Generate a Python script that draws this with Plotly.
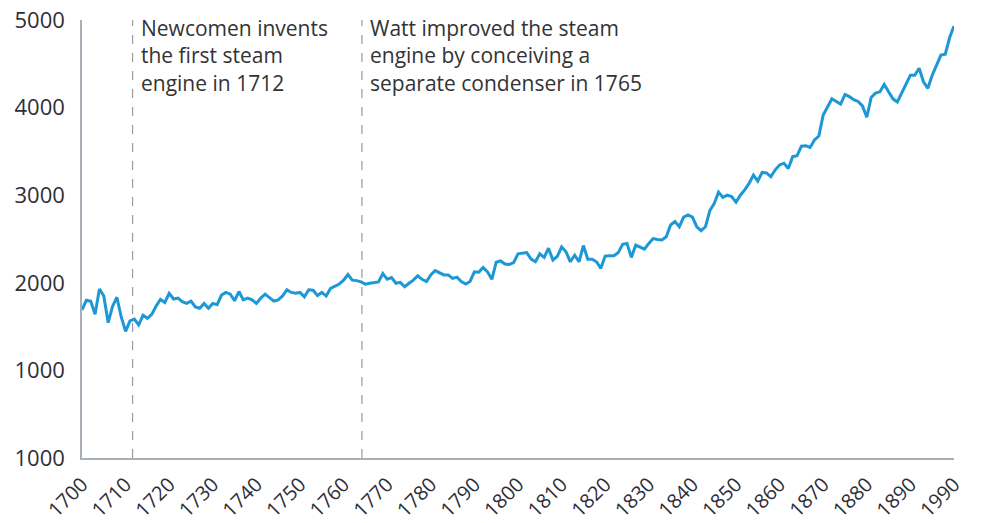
import plotly.graph_objects as go

years = list(range(1700, 1901))
values = [
    1690, 1800, 1790, 1640, 1930, 1850, 1545, 1730, 1835, 1610,  # 1700s
    1445, 1565, 1585, 1520, 1630, 1595, 1640, 1735, 1810, 1775,  # 1710s
    1880, 1815, 1825, 1785, 1765, 1790, 1725, 1710, 1765, 1710,  # 1720s
    1765, 1750, 1860, 1890, 1870, 1795, 1900, 1805, 1825, 1805,  # 1730s
    1765, 1825, 1870, 1835, 1790, 1805, 1850, 1920, 1890, 1880,  # 1740s
    1890, 1840, 1920, 1915, 1855, 1890, 1850, 1935, 1965, 1985,  # 1750s
    2030, 2095, 2030, 2025, 2010, 1985, 1995, 2000, 2010, 2105,  # 1760s
    2040, 2060, 1995, 2005, 1955, 1995, 2030, 2080, 2040, 2015,  # 1770s
    2090, 2140, 2115, 2090, 2090, 2050, 2065, 2015, 1985, 2015,  # 1780s
    2125, 2120, 2175, 2125, 2040, 2235, 2250, 2215, 2210, 2230,  # 1790s
    2330, 2335, 2345, 2270, 2240, 2330, 2290, 2395, 2260, 2300,  # 1800s
    2410, 2355, 2240, 2315, 2240, 2425, 2270, 2270, 2240, 2165,  # 1810s
    2305, 2310, 2310, 2345, 2440, 2450, 2290, 2430, 2405, 2385,  # 1820s
    2450, 2505, 2495, 2490, 2525, 2660, 2700, 2640, 2750, 2775,  # 1830s
    2750, 2640, 2595, 2640, 2825, 2905, 3035, 2975, 3000, 2985,  # 1840s
    2920, 3000, 3060, 3135, 3230, 3160, 3260, 3255, 3210, 3290,  # 1850s
    3345, 3365, 3305, 3440, 3450, 3560, 3565, 3545, 3630, 3675,  # 1860s
    3915, 4010, 4100, 4070, 4040, 4150, 4125, 4090, 4070, 4020,  # 1870s
    3890, 4115, 4165, 4180, 4265, 4180, 4100, 4065, 4170, 4260,  # 1880s
    4370, 4370, 4450, 4295, 4220, 4370, 4485, 4600, 4610, 4800,  # 1890s
    4930,                                                        # 1900
]

x_tick_vals = list(range(1700, 1901, 10))
x_tick_text = [str(v) for v in range(1700, 1900, 10)] + ["1990"]
y_tick_vals = [0, 1000, 2000, 3000, 4000, 5000]
y_tick_text = ["1000", "1000", "2000", "3000", "4000", "5000"]

event_years = [1711.6, 1764.2]
event_texts = [
    "Newcomen invents<br>the first steam<br>engine in 1712",
    "Watt improved the steam<br>engine by conceiving a<br>separate condenser in 1765",
]

LINE = "#1b98d5"
AXIS = "#a9afb8"
TXT = "#2e2e38"
FONT = "Open Sans"

fig = go.Figure()
fig.add_trace(go.Scatter(x=years, y=values, mode="lines",
                         line=dict(color=LINE, width=3), hoverinfo="skip"))

for yr, txt in zip(event_years, event_texts):
    fig.add_shape(type="line", xref="x", yref="paper", x0=yr, x1=yr, y0=0, y1=1,
                  line=dict(color="#9a9a9a", width=1.2, dash="dash"))
    fig.add_annotation(x=yr, xref="x", y=1, yref="paper", text=txt, showarrow=False,
                       xanchor="left", yanchor="top", align="left", xshift=6, yshift=8,
                       font=dict(family=FONT, size=21, color="#333333"))

fig.update_layout(
    width=981, height=523,
    margin=dict(l=82, r=27, t=20, b=65),
    paper_bgcolor="white", plot_bgcolor="white",
    showlegend=False,
    font=dict(family=FONT, size=21, color=TXT),
)
fig.update_xaxes(range=[1700, 1900], tickmode="array", tickvals=x_tick_vals,
                 ticktext=x_tick_text, tickangle=-45, showgrid=False, zeroline=False,
                 showline=True, linecolor=AXIS, linewidth=1.5, ticks="",
                 automargin=False, ticklabelstandoff=5, ticklabeloverflow="allow",
                 tickfont=dict(family=FONT, size=20, color=TXT))
fig.update_yaxes(range=[0, 5000], tickmode="array", tickvals=y_tick_vals,
                 ticktext=y_tick_text, showgrid=False, zeroline=False,
                 showline=True, linecolor=AXIS, linewidth=1.5, ticks="",
                 automargin=False, ticklabelstandoff=11, ticklabeloverflow="allow",
                 tickfont=dict(family=FONT, size=22, color=TXT))

fig.write_html("out.html", config={"displayModeBar": False},
               post_script="document.body.style.margin='0';document.body.style.overflow='hidden';")
